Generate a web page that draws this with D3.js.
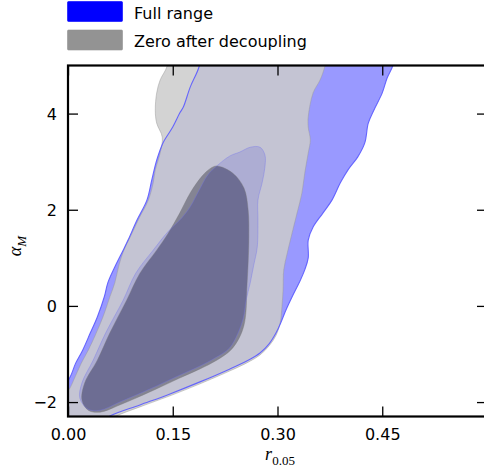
<!DOCTYPE html>
<html>
<head>
<meta charset="utf-8">
<script src="https://cdn.jsdelivr.net/npm/d3@7"></script>
<style>
  html, body { margin: 0; padding: 0; background: #fff; }
  svg { display: block; }
  .tick text { font-family: "DejaVu Sans", sans-serif; font-size: 16px; fill: #000; }
</style>
</head>
<body>
<svg id="chart" width="484" height="474"></svg>
<script>
// Axis ticks
const xTicks = [0, 0.15, 0.30, 0.45, 0.60];
const xTickLabels = ["0.00", "0.15", "0.30", "0.45", ""];
const yTicks = [-2, 0, 2, 4];
const yTickLabels = ["\u22122", "0", "2", "4"];

// Legend entries
const seriesNames = ["Full range", "Zero after decoupling"];

// Contour outlines as [r_0.05, alpha_M] pairs (closed loops)
// Full range, 95% region
const fullOuter = [
  [0.193, 5.53], [0.475, 5.53],
  [0.465, 4.99], [0.457, 4.74], [0.450, 4.43], [0.438, 4.07], [0.430, 3.80],
  [0.425, 3.39], [0.415, 3.10], [0.401, 2.83], [0.390, 2.56], [0.378, 2.20],
  [0.365, 1.93], [0.351, 1.64], [0.344, 1.37], [0.344, 1.00], [0.339, 0.75],
  [0.331, 0.48], [0.321, 0.19], [0.312, -0.09], [0.305, -0.34], [0.298, -0.56],
  [0.288, -0.79], [0.275, -0.98], [0.258, -1.13], [0.232, -1.31], [0.189, -1.58],
  [0.146, -1.83], [0.103, -2.06], [0.060, -2.29], [0.039, -2.48],
  [-0.040, -2.58], [-0.040, -1.96], [-0.011, -1.79],
  [0.003, -1.48], [0.011, -1.19], [0.021, -0.92], [0.032, -0.56], [0.042, -0.23],
  [0.052, 0.19], [0.057, 0.48], [0.067, 0.81], [0.079, 1.16], [0.086, 1.37],
  [0.099, 1.79], [0.113, 2.20], [0.120, 2.62], [0.127, 3.03], [0.136, 3.39],
  [0.150, 3.72], [0.160, 4.01], [0.165, 4.13], [0.175, 4.55], [0.188, 4.99]
];
// Full range, 68% region
const fullInner = [
  [0.213, 2.91], [0.232, 3.12], [0.246, 3.20], [0.261, 3.30], [0.275, 3.30],
  [0.282, 3.14], [0.282, 2.89], [0.278, 2.56], [0.272, 2.20], [0.272, 1.79],
  [0.271, 1.22], [0.266, 0.85], [0.261, 0.48], [0.255, 0.12], [0.251, -0.25],
  [0.243, -0.58], [0.231, -0.88], [0.211, -1.08], [0.189, -1.25], [0.160, -1.44],
  [0.117, -1.73], [0.074, -2.00], [0.046, -2.17], [0.029, -2.15], [0.017, -1.92],
  [0.020, -1.60], [0.036, -1.13], [0.054, -0.56], [0.079, 0.12], [0.097, 0.68],
  [0.122, 1.16], [0.143, 1.54], [0.163, 1.83], [0.175, 2.06], [0.188, 2.41],
  [0.200, 2.72]
];
// Zero after decoupling, 95% region
const zeroOuter = [
  [0.146, 5.53], [0.375, 5.53],
  [0.368, 4.99], [0.361, 4.70], [0.351, 4.43], [0.344, 3.93], [0.344, 3.72],
  [0.347, 3.45], [0.344, 3.18], [0.339, 2.76], [0.335, 2.35], [0.328, 1.93],
  [0.321, 1.52], [0.314, 1.10], [0.309, 0.75], [0.308, 0.33], [0.306, -0.09],
  [0.304, -0.34], [0.298, -0.61], [0.288, -0.83], [0.275, -1.02], [0.258, -1.17],
  [0.232, -1.35], [0.189, -1.62], [0.146, -1.87], [0.103, -2.10], [0.067, -2.31],
  [0.046, -2.54], [-0.040, -2.62], [-0.040, -2.06], [-0.011, -1.92],
  [0.001, -1.75], [0.010, -1.48], [0.019, -1.19], [0.029, -0.92], [0.039, -0.61],
  [0.050, -0.23], [0.060, 0.19], [0.067, 0.48], [0.073, 0.85], [0.080, 1.16],
  [0.089, 1.43], [0.102, 1.83], [0.115, 2.20], [0.122, 2.56], [0.125, 2.83],
  [0.132, 3.18], [0.135, 3.51], [0.127, 3.80], [0.125, 4.07], [0.127, 4.43],
  [0.132, 4.70], [0.142, 4.99]
];
// Zero after decoupling, 68% region
const zeroInner = [
  [0.213, 2.91], [0.236, 2.76], [0.252, 2.45], [0.258, 1.99], [0.259, 1.43],
  [0.258, 0.91], [0.256, 0.33], [0.255, -0.09], [0.252, -0.40], [0.245, -0.67],
  [0.233, -0.92], [0.213, -1.13], [0.189, -1.31], [0.160, -1.50], [0.117, -1.79],
  [0.074, -2.06], [0.046, -2.21], [0.029, -2.17], [0.020, -1.96], [0.024, -1.60],
  [0.042, -1.13], [0.060, -0.56], [0.084, 0.12], [0.103, 0.68], [0.127, 1.16],
  [0.143, 1.50], [0.160, 1.93], [0.175, 2.35], [0.192, 2.70], [0.203, 2.85]
];

const svg = d3.select("#chart");
const plotLeft = 68, plotRight = 487, plotTop = 65.5, plotBottom = 416.5;

const x = d3.scaleLinear().domain([0, 0.6]).range([plotLeft, plotRight]);
const y = d3.scaleLinear().domain([-2.3, 5]).range([plotBottom, plotTop]);

svg.append("defs").append("clipPath").attr("id", "plotclip")
  .append("rect").attr("x", plotLeft).attr("y", plotTop)
  .attr("width", plotRight - plotLeft).attr("height", plotBottom - plotTop);

const area = d3.line()
  .x(d => x(d[0])).y(d => y(d[1]))
  .curve(d3.curveCatmullRomClosed.alpha(0.5));

const plot = svg.append("g").attr("clip-path", "url(#plotclip)");

// Full range filled regions
plot.append("path").attr("d", area(fullOuter)).attr("fill", "#9999ff");
plot.append("path").attr("d", area(fullInner)).attr("fill", "#0000ff");

// Zero after decoupling filled regions, laid over with transparency
const zg = plot.append("g").attr("opacity", 0.85);
zg.append("path").attr("d", area(zeroOuter)).attr("fill", "#cccccc");
zg.append("path").attr("d", area(zeroInner)).attr("fill", "#808080");

// Contour edges
plot.append("path").attr("d", area(zeroOuter)).attr("fill", "none")
  .attr("stroke", "#9a9a9a").attr("stroke-width", 0.8).attr("opacity", 0.6);
plot.append("path").attr("d", area(zeroInner)).attr("fill", "none")
  .attr("stroke", "#777777").attr("stroke-width", 0.8).attr("opacity", 0.5);
plot.append("path").attr("d", area(fullInner)).attr("fill", "none")
  .attr("stroke", "#6f6fee").attr("stroke-width", 0.8).attr("opacity", 0.45);
plot.append("path").attr("d", area(fullOuter)).attr("fill", "none")
  .attr("stroke", "#5a5aff").attr("stroke-width", 1.1).attr("opacity", 0.9);

// Axes with inward ticks
const fmtX = (d, i) => xTickLabels[i];
const fmtY = (d, i) => yTickLabels[i];

const gx = svg.append("g").attr("transform", `translate(0,${plotBottom})`)
  .call(d3.axisBottom(x).tickValues(xTicks).tickFormat(fmtX).tickSize(-10).tickPadding(12.5));
const gxt = svg.append("g").attr("transform", `translate(0,${plotTop})`)
  .call(d3.axisTop(x).tickValues(xTicks).tickFormat("").tickSize(-10));
const gy = svg.append("g").attr("transform", `translate(${plotLeft},0)`)
  .call(d3.axisLeft(y).tickValues(yTicks).tickFormat(fmtY).tickSize(-10).tickPadding(11));
const gyr = svg.append("g").attr("transform", `translate(${plotRight},0)`)
  .call(d3.axisRight(y).tickValues(yTicks).tickFormat("").tickSize(-10));

[gx, gxt, gy, gyr].forEach(g => {
  g.select(".domain").remove();
  g.selectAll(".tick line").attr("stroke", "#000").attr("stroke-width", 1.3);
});
gy.selectAll(".tick text").attr("dy", "0.36em");

// Frame
svg.append("rect").attr("x", plotLeft).attr("y", plotTop)
  .attr("width", plotRight - plotLeft).attr("height", plotBottom - plotTop)
  .attr("fill", "none").attr("stroke", "#000").attr("stroke-width", 2.2);

// Axis labels
const xl = svg.append("text").attr("x", 280).attr("y", 460)
  .attr("text-anchor", "middle")
  .style("font-family", "'Liberation Serif', 'DejaVu Serif', serif");
xl.append("tspan").text("r").style("font-style", "italic").style("font-size", "18px");
xl.append("tspan").text("0.05").attr("dy", 5).style("font-size", "13px");

const yl = svg.append("text")
  .attr("transform", `translate(21,246) rotate(-90)`)
  .attr("text-anchor", "middle")
  .style("font-family", "'Liberation Serif', 'DejaVu Serif', serif");
yl.append("tspan").text("\u03b1").style("font-style", "italic").style("font-size", "18px");
yl.append("tspan").text("M").attr("dy", 5).style("font-style", "italic").style("font-size", "13px");

// Legend
const legendColors = ["#0000ff", "#939393"];
const legend = svg.append("g");
seriesNames.forEach((name, i) => {
  legend.append("rect").attr("x", 67.5).attr("y", 1.5 + i * 28.5)
    .attr("width", 55).attr("height", 20).attr("rx", 1)
    .attr("fill", legendColors[i]).attr("stroke", legendColors[i]).attr("stroke-opacity", 0.6);
  legend.append("text").attr("x", 134).attr("y", 18.5 + i * 28.5)
    .text(name)
    .style("font-family", "'DejaVu Sans', sans-serif").style("font-size", "16px");
});
</script>
</body>
</html>
